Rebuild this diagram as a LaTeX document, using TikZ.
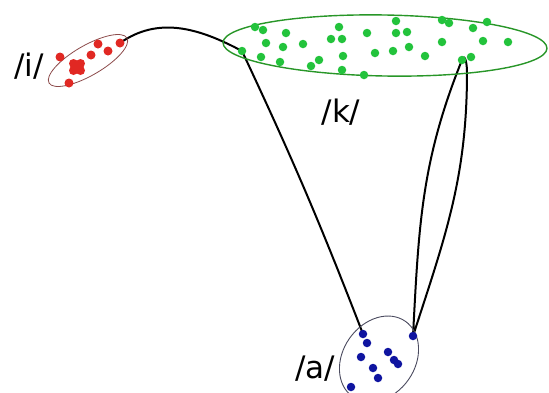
\documentclass[tikz,border=0pt]{standalone}
\usepackage{fontspec}
\setmainfont{DejaVu Sans}
\usetikzlibrary{backgrounds}

\definecolor{kgreen}{RGB}{35,195,60}
\definecolor{kgreenline}{RGB}{40,150,40}
\definecolor{ired}{RGB}{225,40,35}
\definecolor{iredline}{RGB}{140,75,75}
\definecolor{ablue}{RGB}{15,20,160}
\definecolor{ablueline}{RGB}{75,75,95}

\tikzset{
  gdot/.style={circle, fill=kgreen, inner sep=0pt, minimum size=8.5pt},
  rdot/.style={circle, fill=ired, inner sep=0pt, minimum size=9pt},
  bdot/.style={circle, fill=ablue, inner sep=0pt, minimum size=8.5pt},
  lbl/.style={font=\fontsize{31}{31}\selectfont, inner sep=0pt},
  link/.style={black, line width=2pt}
}

\begin{document}
\begin{tikzpicture}[x=1pt, y=1pt]
        \useasboundingbox (0,0) rectangle (549,-392);

        % Nube /k/
        \draw[kgreenline, line width=1.4pt, rotate around={-1:(385,-45.5)}]
            (385,-45.5) ellipse [x radius=162, y radius=30.5];
        \node[gdot] (g1) at (242,-51) {};
        \node[gdot] (g2) at (462,-60) {};
        \node[gdot] (g3) at (471,-57) {};
        \foreach \x/\y in {255/27, 263/30, 286/33, 266/43, 283/47, 303/44,
            261/57, 280/62, 311/66, 319/60, 339/27, 331/39, 342/39, 343/56,
            342/70, 364/75, 367/33, 375/53, 396/21, 396/33, 407/32, 393/51,
            409/47, 425/56, 442/20, 449/23, 442/42, 473/28, 487/22, 483/41,
            508/42}
            \node[gdot] at (\x,-\y) {};
        \node[lbl] (lk) at (341,-112) {/k/};

        % Nube /i/
        \draw[iredline, line width=0.8pt, rotate around={30:(88,-60.5)}]
            (88,-60.5) ellipse [x radius=45, y radius=15];
        \node[rdot] (r1) at (120,-43) {};
        \foreach \x/\y in {108/51, 98/44, 91/55, 60/57, 69/83,
            73.5/63.5, 80.5/63.5, 73.5/70.5, 80.5/70.5, 77/67}
            \node[rdot] at (\x,-\y) {};
        \node[lbl] (li) at (29,-66) {/i/};

        % Nube /a/
        \draw[ablueline, line width=0.9pt, rotate around={55:(379,-359)}]
            (379,-359) ellipse [x radius=46, y radius=36];
        \node[bdot] (b1) at (363,-334) {};
        \node[bdot] (b2) at (413,-336) {};
        \foreach \x/\y in {367/343, 361/357, 388/352, 394/360, 398/364,
            373/368, 378/378, 351/387}
            \node[bdot] at (\x,-\y) {};
        \node[lbl] (la) at (315,-369) {/a/};

        % Trayectorias
        \begin{pgfonlayer}{background}
            \draw[link] (r1.center) to[out=35, in=152] (g1.center);
            \draw[link] (g1.center) to[bend left=2] (b1.center);
            \draw[link] (b2.center) to[out=87, in=-112] (g2.center)
                to[out=68, in=90, looseness=1.6] (467,-72)
                to[out=-90, in=72] (b2.center);
        \end{pgfonlayer}
    \end{tikzpicture}
\end{document}
